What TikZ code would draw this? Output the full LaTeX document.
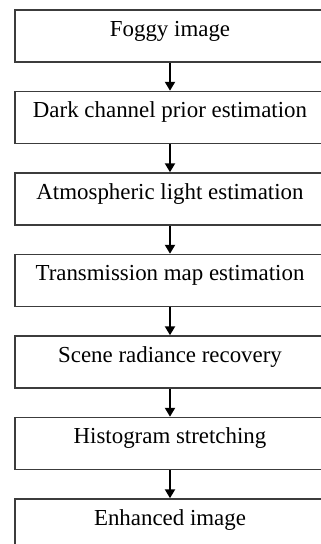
\documentclass[tikz,border=0pt]{standalone}
\usepackage{fontspec}
\setmainfont{Liberation Serif}
\usepackage{tikz}
\usetikzlibrary{arrows.meta,positioning}
\definecolor{boxgray}{RGB}{60,60,60}
\tikzstyle{arrow} = [line width=2.5bp,-{Triangle[width=10bp,length=9bp]},color=black]
\tikzstyle{stage} = [rectangle, minimum width=310bp, minimum height=52bp, text centered, draw=boxgray, line width=1.5bp, font=\fontsize{22.9bp}{27bp}\selectfont, text height=16bp, text depth=16bp]

\begin{document}
\begin{tikzpicture}
\path[use as bounding box, clip] (0,0) rectangle (321bp,-544bp);
% Processing stages
\node (foggy) [stage] at (170bp,-36bp) {Foggy image};
\node (dark) [stage, below=28bp of foggy] {Dark channel prior estimation};
\node (atmo) [stage, below=28bp of dark] {Atmospheric light estimation};
\node (trans) [stage, below=28bp of atmo] {Transmission map estimation};
\node (scene) [stage, below=28bp of trans] {Scene radiance recovery};
\node (histo) [stage, below=28bp of scene] {Histogram stretching};
\node (enhanced) [stage, below=28bp of histo] {Enhanced image};

% Connections
\draw[arrow] (foggy) -- (dark);
\draw[arrow] (dark) -- (atmo);
\draw[arrow] (atmo) -- (trans);
\draw[arrow] (trans) -- (scene);
\draw[arrow] (scene) -- (histo);
\draw[arrow] (histo) -- (enhanced);
\end{tikzpicture}
\end{document}
